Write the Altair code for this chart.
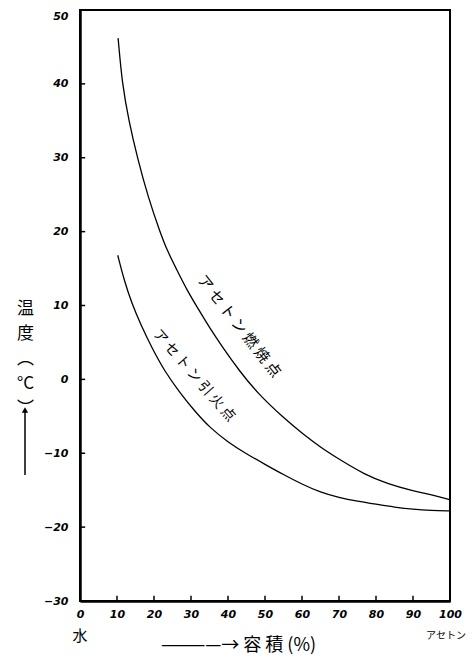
import altair as alt
import pandas as pd

# Upper curve: アセトン燃焼点
burn_x = [10.3, 11.4, 13.2, 15.5, 18.5, 21.6, 23.5, 26.0, 29.0, 32.0, 35.0, 38.6, 43.0, 48.0, 55.0, 60.0, 65.0, 70.0, 77.0, 83.0, 90.0, 95.0, 100.0]
burn_y = [46.2, 40.0, 35.0, 30.0, 24.5, 20.0, 17.5, 15.0, 12.0, 9.5, 7.0, 4.3, 1.2, -1.9, -5.2, -7.3, -9.2, -10.8, -12.9, -14.1, -15.1, -15.6, -16.3]

# Lower curve: アセトン引火点
flash_x = [10.2, 12.0, 14.0, 16.5, 19.5, 23.0, 27.0, 31.0, 35.0, 40.0, 45.0, 50.0, 55.0, 60.0, 65.0, 70.0, 75.0, 80.0, 85.0, 90.0, 95.0, 100.0]
flash_y = [16.8, 13.3, 10.3, 7.3, 4.2, 1.0, -1.8, -4.3, -6.5, -8.5, -10.1, -11.5, -12.9, -14.2, -15.3, -16.0, -16.5, -16.9, -17.3, -17.6, -17.75, -17.8]

x_ticks = [0, 10, 20, 30, 40, 50, 60, 70, 80, 90, 100]
y_ticks = [-30, -20, -10, 0, 10, 20, 30, 40, 50]

curve_labels = ["ア セ ト ン 燃 焼 点", "ア セ ト ン 引 火 点"]
label_x = [43.0, 30.8]
label_y = [7.2, 0.5]
end_labels = ["水", "アセトン"]
end_x = [0, 100]

JP = "Noto Sans CJK JP"

df = pd.DataFrame(
    {"x": burn_x + flash_x,
     "y": burn_y + flash_y,
     "series": ["燃焼点"] * len(burn_x) + ["引火点"] * len(flash_x)}
)

xs = alt.Scale(domain=[0, 100], nice=False, zero=False)
ys = alt.Scale(domain=[-30, 50], nice=False, zero=False)

x_axis = alt.Axis(
    values=x_ticks, ticks=False, tickSize=0, grid=False, domainColor="black", domainWidth=2.5,
    labelFont="DejaVu Sans", labelFontStyle="italic", labelFontWeight="bold", labelFontSize=11,
    labelColor="black", labelPadding=7, labelFlush=False, labelOverlap=False,
    title="————→ 容 積 (%)", titleFont=JP, titleFontSize=18, titleFontWeight="normal",
    titleColor="black", titleX=158, titleY=44, titleAnchor="start", titleAlign="center",
    titleBaseline="middle")
y_axis = alt.Axis(
    values=y_ticks, ticks=False, tickSize=0, grid=False, domainColor="black", domainWidth=2.5,
    labelFont="DejaVu Sans", labelFontStyle="italic", labelFontWeight="bold", labelFontSize=11,
    labelColor="black", labelPadding=12, labelFlush=False, labelOverlap=False,
    labelBaseline=alt.condition("datum.value == 50", alt.value("top"), alt.value("middle")),
    title=["温", "度", "︵", "°C", "︶"], titleFont=JP, titleFontSize=17, titleFontWeight="normal",
    titleColor="black", titleAngle=0, titleX=-55, titleY=290, titleAlign="center",
    titleBaseline="top", titleLineHeight=25, titleAnchor="start")

lines = alt.Chart(df).mark_line(color="black", strokeWidth=1.3, interpolate="basis").encode(
    x=alt.X("x:Q", scale=xs, axis=x_axis),
    y=alt.Y("y:Q", scale=ys, axis=y_axis),
    detail="series:N",
)

ytick_df = pd.DataFrame({"x": [0] * len(y_ticks), "x1": [1.4] * len(y_ticks), "y": y_ticks})
yticks = alt.Chart(ytick_df).mark_rule(color="black", strokeWidth=1.5).encode(
    x=alt.X("x:Q", scale=xs, axis=x_axis), x2="x1", y=alt.Y("y:Q", scale=ys, axis=y_axis))

xtick_df = pd.DataFrame({"x": x_ticks[1:-1], "y": [-30] * 9, "y1": [-29.3] * 9})
xticks = alt.Chart(xtick_df).mark_rule(color="black", strokeWidth=1.5).encode(
    x=alt.X("x:Q", scale=xs, axis=x_axis), y=alt.Y("y:Q", scale=ys, axis=y_axis), y2="y1")

lab_df = pd.DataFrame({"t": curve_labels, "x": label_x, "y": label_y})
upper = alt.Chart(lab_df.iloc[[0]]).mark_text(font=JP, fontSize=15, angle=52, color="black").encode(
    x=alt.X("x:Q", scale=xs, axis=x_axis), y=alt.Y("y:Q", scale=ys, axis=y_axis), text="t:N")
lower = alt.Chart(lab_df.iloc[[1]]).mark_text(font=JP, fontSize=14, angle=49, color="black").encode(
    x=alt.X("x:Q", scale=xs, axis=x_axis), y=alt.Y("y:Q", scale=ys, axis=y_axis), text="t:N")

end_df = pd.DataFrame({"t": end_labels, "x": end_x})
end_water = alt.Chart(end_df.iloc[[0]]).mark_text(font=JP, fontSize=15, color="black", baseline="middle").encode(
    x=alt.X("x:Q", scale=xs, axis=x_axis), y=alt.value(626), text="t:N")
end_acetone = alt.Chart(end_df.iloc[[1]]).mark_text(font=JP, fontSize=10, color="black", baseline="middle", dx=-4).encode(
    x=alt.X("x:Q", scale=xs, axis=x_axis), y=alt.value(626), text="t:N")

arrow_line = alt.Chart(pd.DataFrame({"k": [0]})).mark_rule(color="black", strokeWidth=1.5).encode(
    x=alt.value(-55), y=alt.value(400), y2=alt.value(465))
arrow_head = alt.Chart(pd.DataFrame({"k": [0]})).mark_point(
    shape="triangle-up", filled=True, color="black", size=40, opacity=1).encode(
    x=alt.value(-55), y=alt.value(400))

chart = alt.layer(lines, yticks, xticks, upper, lower, end_water, end_acetone, arrow_line, arrow_head).properties(
    width=370, height=591,
    background="white",
    autosize=alt.AutoSizeParams(type="none"),
    padding={"left": 72, "top": 2, "right": 17, "bottom": 55},
).configure_view(stroke="black", strokeWidth=2, strokeOpacity=1)

chart.save("out.html", embed_options={"renderer": "svg", "actions": False})
